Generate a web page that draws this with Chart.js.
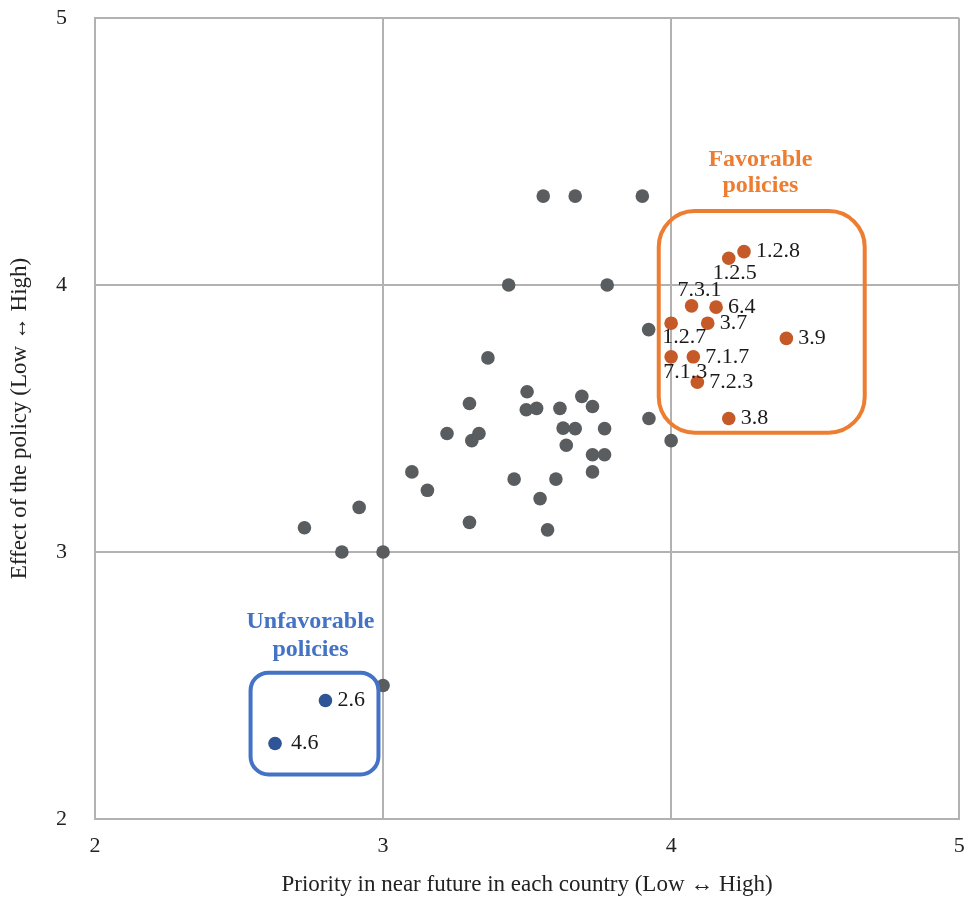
<!DOCTYPE html>
<html>
<head>
<meta charset="utf-8">
<script src="https://cdn.jsdelivr.net/npm/chart.js@4.4.1/dist/chart.umd.min.js"></script>
<style>
  html, body { margin: 0; padding: 0; background: #fff; }
  #wrap { width: 966px; height: 903px; }
</style>
</head>
<body>
<div id="wrap"><canvas id="chartPol"></canvas></div>
<script>
// other policies (gray)
const otherX = [3.556, 3.667, 3.900, 3.436, 3.778, 3.922, 3.364, 3.500, 3.300, 3.497,
  3.533, 3.614, 3.690, 3.727, 3.222, 3.333, 3.308, 3.625, 3.667, 3.769,
  3.636, 3.923, 4.000, 3.727, 3.769, 3.727, 3.100, 3.154, 3.455, 3.600,
  3.545, 3.300, 3.571, 2.917, 2.727, 2.857, 3.000, 3.000];
const otherY = [4.333, 4.333, 4.333, 4.000, 4.000, 3.833, 3.727, 3.600, 3.556, 3.533,
  3.538, 3.538, 3.583, 3.545, 3.444, 3.444, 3.417, 3.464, 3.462, 3.462,
  3.400, 3.500, 3.417, 3.364, 3.364, 3.300, 3.300, 3.231, 3.273, 3.273,
  3.200, 3.111, 3.083, 3.167, 3.091, 3.000, 3.000, 2.500];

// favorable policies (orange)
const favLabels = ['1.2.8', '1.2.5', '7.3.1', '6.4', '1.2.7', '3.7', '3.9', '7.1.3', '7.1.7', '7.2.3', '3.8'];
const favX = [4.253, 4.200, 4.071, 4.156, 4.000, 4.127, 4.400, 4.000, 4.077, 4.091, 4.200];
const favY = [4.125, 4.100, 3.922, 3.917, 3.857, 3.857, 3.800, 3.731, 3.731, 3.636, 3.500];

// unfavorable policies (blue)
const unfavLabels = ['2.6', '4.6'];
const unfavX = [2.800, 2.625];
const unfavY = [2.444, 2.283];

const xTicks = [2, 3, 4, 5];
const yTicks = [2, 3, 4, 5];

// label placement: [dx, dy, align]
const placement = {
  '1.2.5': [6, 15, 'center'],
  '7.3.1': [8, -16, 'center'],
  '1.2.7': [13, 14, 'center'],
  '7.1.3': [14, 15, 'center'],
  '4.6': [16, 0, 'left']
};

const serif = '"Liberation Serif", "DejaVu Serif", serif';

function pts(xs, ys) {
  return xs.map((x, i) => ({ x: x, y: ys[i] }));
}

function roundRect(ctx, x1, y1, x2, y2, r) {
  ctx.beginPath();
  ctx.moveTo(x1 + r, y1);
  ctx.lineTo(x2 - r, y1);
  ctx.arcTo(x2, y1, x2, y1 + r, r);
  ctx.lineTo(x2, y2 - r);
  ctx.arcTo(x2, y2, x2 - r, y2, r);
  ctx.lineTo(x1 + r, y2);
  ctx.arcTo(x1, y2, x1, y2 - r, r);
  ctx.lineTo(x1, y1 + r);
  ctx.arcTo(x1, y1, x1 + r, y1, r);
  ctx.closePath();
}

function noPad(s) {
  s.paddingTop = 0; s.paddingBottom = 0; s.paddingLeft = 0; s.paddingRight = 0;
}

const annotations = {
  id: 'annotations',
  afterDatasetsDraw(chart) {
    const ctx = chart.ctx;
    const xs = chart.scales.x, ys = chart.scales.y;
    ctx.save();

    // boxes
    ctx.lineWidth = 4;
    ctx.strokeStyle = '#ED7D31';
    roundRect(ctx, xs.getPixelForValue(3.957), ys.getPixelForValue(4.277),
      xs.getPixelForValue(4.672), ys.getPixelForValue(3.447), 36);
    ctx.stroke();
    ctx.strokeStyle = '#4472C4';
    roundRect(ctx, xs.getPixelForValue(2.540), ys.getPixelForValue(2.548),
      xs.getPixelForValue(2.984), ys.getPixelForValue(2.167), 18);
    ctx.stroke();

    // headings
    ctx.font = 'bold 24px ' + serif;
    ctx.textAlign = 'center';
    ctx.textBaseline = 'middle';
    ctx.fillStyle = '#ED7D31';
    const fx = xs.getPixelForValue(4.31);
    ctx.fillText('Favorable', fx, ys.getPixelForValue(4.468));
    ctx.fillText('policies', fx, ys.getPixelForValue(4.371));
    ctx.fillStyle = '#4472C4';
    const ux = xs.getPixelForValue(2.748);
    ctx.fillText('Unfavorable', ux, ys.getPixelForValue(2.738));
    ctx.fillText('policies', ux, ys.getPixelForValue(2.633));

    // point labels
    ctx.font = '22px ' + serif;
    ctx.fillStyle = '#1a1a1a';
    const drawLabels = (labels, xv, yv) => {
      labels.forEach((lab, i) => {
        const p = placement[lab] || [12, 0, 'left'];
        ctx.textAlign = p[2];
        ctx.fillText(lab, xs.getPixelForValue(xv[i]) + p[0], ys.getPixelForValue(yv[i]) + p[1]);
      });
    };
    drawLabels(favLabels, favX, favY);
    drawLabels(unfavLabels, unfavX, unfavY);
    ctx.restore();
  }
};

const ctx = document.getElementById('chartPol').getContext('2d');
new Chart(ctx, {
  type: 'scatter',
  data: {
    datasets: [
      { label: 'Other', data: pts(otherX, otherY), backgroundColor: '#595d5f', borderWidth: 0, pointRadius: 6.8 },
      { label: 'Favorable', data: pts(favX, favY), backgroundColor: '#C55A28', borderWidth: 0, pointRadius: 6.8 },
      { label: 'Unfavorable', data: pts(unfavX, unfavY), backgroundColor: '#2F5597', borderWidth: 0, pointRadius: 6.8 }
    ]
  },
  options: {
    responsive: true,
    maintainAspectRatio: false,
    animation: false,
    layout: { padding: { top: 18, right: 4, left: 0, bottom: 0 } },
    plugins: { legend: { display: false }, tooltip: { enabled: false } },
    scales: {
      x: {
        type: 'linear', min: 2, max: 5,
        afterFit: s => { s.height = 84; noPad(s); },
        afterBuildTicks: s => { s.ticks = xTicks.map(v => ({ value: v })); },
        grid: { color: '#b2b2b2', lineWidth: 2, drawTicks: false },
        border: { color: '#b2b2b2', width: 2 },
        ticks: { padding: 14, color: '#222', font: { family: serif, size: 22 } },
        title: { display: true, text: 'Priority in near future in each country (Low \u2194 High)',
          color: '#222', font: { family: serif, size: 23 }, padding: { top: 0, bottom: 4 } }
      },
      y: {
        type: 'linear', min: 2, max: 5,
        afterFit: s => { s.width = 95; noPad(s); },
        afterBuildTicks: s => { s.ticks = yTicks.map(v => ({ value: v })); },
        grid: { color: '#b2b2b2', lineWidth: 2, drawTicks: false },
        border: { color: '#b2b2b2', width: 2 },
        ticks: { padding: 28, color: '#222', font: { family: serif, size: 22 } },
        title: { display: true, text: 'Effect of the policy (Low \u2194 High)',
          color: '#222', font: { family: serif, size: 23 }, padding: { top: 6, bottom: 0 } }
      }
    }
  },
  plugins: [annotations]
});
</script>
</body>
</html>
